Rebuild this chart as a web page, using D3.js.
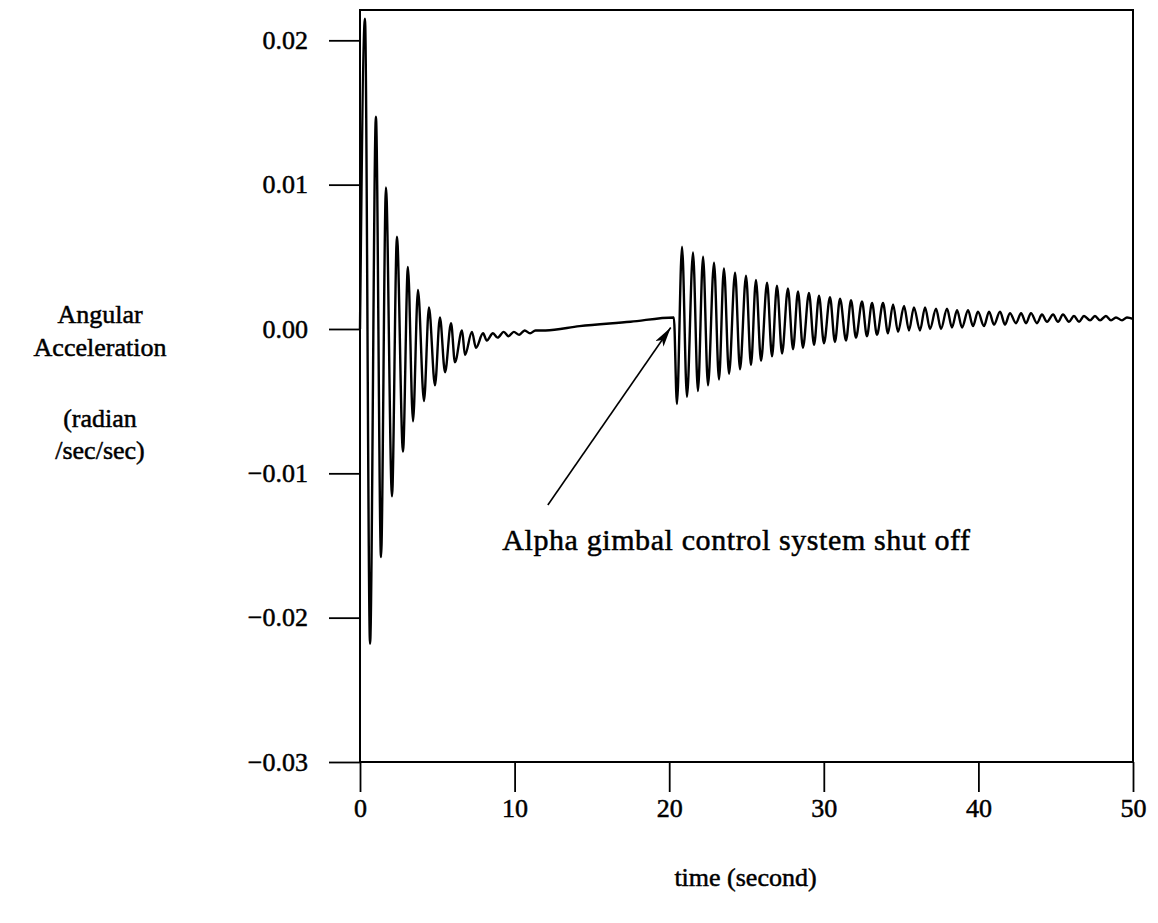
<!DOCTYPE html>
<html>
<head>
<meta charset="utf-8">
<script src="https://cdn.jsdelivr.net/npm/d3@7/dist/d3.min.js"></script>
<style>
  html, body { margin: 0; padding: 0; background: #fff; }
  svg { display: block; }
  text { font-family: "Liberation Serif", "Times New Roman", serif; fill: #000; stroke: #000; stroke-width: 0.5px; }
</style>
</head>
<body>
<svg id="chart" width="1158" height="923"></svg>
<script>
// Axis ticks
const xTicks = [0, 10, 20, 30, 40, 50];
const yTicks = [-0.03, -0.02, -0.01, 0.00, 0.01, 0.02];

// Response before shut-off: start point, peaks, troughs, slow drift
const startTime = [0];
const startValue = [0.0];

const peakTimes1 = [0.32, 1.03, 1.68, 2.39, 3.10, 3.75, 4.46, 5.17, 5.89, 6.60, 7.24, 7.96, 8.60, 9.30, 9.95, 10.65, 11.35];
const peakValues1 = [0.0215, 0.0147, 0.0098, 0.0064, 0.0043, 0.0027, 0.0015, 0.0008, 0.0004, -0.0001, -0.0002, -0.0003, -0.0003, -0.0002, -0.0002, -0.0001, -0.0001];

const troughTimes1 = [0.65, 1.36, 2.07, 2.78, 3.43, 4.14, 4.85, 5.50, 6.14, 6.79, 7.50, 8.20, 8.90, 9.60, 10.30, 11.00];
const troughValues1 = [-0.0218, -0.0158, -0.0116, -0.0085, -0.0064, -0.0050, -0.0039, -0.0030, -0.0023, -0.0018, -0.0013, -0.0008, -0.0006, -0.0005, -0.0004, -0.0003];

const driftTimes = [12.0, 14.2, 17.5, 20.3];
const driftValues = [-0.0001, 0.0002, 0.0005, 0.0008];

// Response after shut-off
const peakTimes2 = [20.83, 21.54, 22.19, 22.90, 23.54, 24.26, 24.97, 25.61, 26.33, 26.97, 27.68, 28.33, 29.04, 29.69, 30.40,
  31.05, 31.76, 32.47, 33.12, 33.83, 34.48, 35.19, 35.83, 36.55, 37.26, 37.97, 38.62, 39.33, 39.97, 40.69,
  41.40, 42.04, 42.76, 43.40, 44.11, 44.83, 45.47, 46.18, 46.83, 47.54, 48.25, 48.90, 49.61];
const peakValues2 = [0.0057, 0.0053, 0.0050, 0.0046, 0.0042, 0.0039, 0.0037, 0.0034, 0.0032, 0.0030, 0.0028, 0.0026, 0.0025, 0.0023, 0.0022,
  0.0021, 0.0020, 0.0019, 0.0018, 0.0018, 0.0017, 0.0016, 0.0015, 0.0015, 0.0014, 0.0014, 0.0013, 0.0013, 0.0012, 0.0012,
  0.0012, 0.0011, 0.0011, 0.0011, 0.0010, 0.0010, 0.0010, 0.0009, 0.0009, 0.0009, 0.0009, 0.0008, 0.0008];

const troughTimes2 = [20.50, 21.15, 21.86, 22.51, 23.22, 23.87, 24.58, 25.29, 25.94, 26.65, 27.30, 28.01, 28.65, 29.37, 30.01,
  30.72, 31.44, 32.08, 32.79, 33.44, 34.15, 34.80, 35.51, 36.22, 36.87, 37.58, 38.29, 38.94, 39.65, 40.36,
  41.01, 41.72, 42.43, 43.08, 43.79, 44.44, 45.15, 45.86, 46.51, 47.22, 47.87, 48.58, 49.29];
const troughValues2 = [-0.0052, -0.0047, -0.0043, -0.0039, -0.0035, -0.0031, -0.0028, -0.0025, -0.0022, -0.0019, -0.0017, -0.0014, -0.0013, -0.0011, -0.0010,
  -0.0009, -0.0008, -0.0006, -0.0005, -0.0004, -0.0003, -0.0002, -0.0001, -0.0001, 0.0000, 0.0000, 0.0001, 0.0001, 0.0002, 0.0002,
  0.0003, 0.0003, 0.0004, 0.0004, 0.0004, 0.0005, 0.0005, 0.0005, 0.0005, 0.0006, 0.0006, 0.0006, 0.0006];

const endTime = [50];
const endValue = [0.0007];

// Annotation anchor points (data units)
const noteText = "Alpha gimbal control system shut off";
const noteAt = { t: 9.2, v: -0.0153 };
const arrowFrom = { t: 12.15, v: -0.0122 };
const arrowTo = { t: 20.1, v: 0.0001 };

const xTitle = "time (second)";
const yTitleLines = ["Angular", "Acceleration", "(radian", "/sec/sec)"];

// ---- build series ----
function pairs(ts, vs) { return ts.map((t, i) => ({ t, v: vs[i] })); }
const series = [].concat(
  pairs(startTime, startValue),
  pairs(peakTimes1, peakValues1),
  pairs(troughTimes1, troughValues1),
  pairs(driftTimes, driftValues),
  pairs(peakTimes2, peakValues2),
  pairs(troughTimes2, troughValues2),
  pairs(endTime, endValue)
).sort((a, b) => a.t - b.t);

// ---- layout ----
const svg = d3.select("#chart");
const plotLeft = 360, plotRight = 1133, plotTop = 10, plotBottom = 762;

const x = d3.scaleLinear().domain([0, 50]).range([plotLeft, plotRight]);
const y = d3.scaleLinear().domain([-0.03, 0.0221]).range([plotBottom, plotTop]);

// frame
svg.append("rect")
  .attr("x", plotLeft).attr("y", plotTop)
  .attr("width", plotRight - plotLeft).attr("height", plotBottom - plotTop)
  .attr("fill", "none").attr("stroke", "#000").attr("stroke-width", 2);

// y axis
const yAxis = svg.append("g")
  .attr("transform", `translate(${plotLeft},0)`)
  .call(d3.axisLeft(y).tickValues(yTicks).tickSize(31).tickSizeOuter(0).tickPadding(21)
    .tickFormat(d3.format(".2f")));
yAxis.select(".domain").remove();
yAxis.selectAll(".tick line").attr("stroke", "#000").attr("stroke-width", 1.8);
yAxis.selectAll(".tick text")
  .style("font-family", "Liberation Serif, serif")
  .style("font-size", "26px")
  .attr("fill", "#000");

// x axis
const xAxis = svg.append("g")
  .attr("transform", `translate(0,${plotBottom})`)
  .call(d3.axisBottom(x).tickValues(xTicks).tickSize(30).tickSizeOuter(0).tickPadding(7)
    .tickFormat(d3.format("d")));
xAxis.select(".domain").remove();
xAxis.selectAll(".tick line").attr("stroke", "#000").attr("stroke-width", 1.8);
xAxis.selectAll(".tick text")
  .style("font-family", "Liberation Serif, serif")
  .style("font-size", "26px")
  .attr("fill", "#000");

// response curve
const line = d3.line()
  .x(d => x(d.t))
  .y(d => y(d.v))
  .curve(d3.curveMonotoneX);

svg.append("path")
  .datum(series)
  .attr("d", line)
  .attr("fill", "none")
  .attr("stroke", "#000")
  .attr("stroke-width", 2.4)
  .attr("stroke-linejoin", "round");

// annotation arrow
svg.append("defs").append("marker")
  .attr("id", "head")
  .attr("viewBox", "0 0 20 10")
  .attr("refX", 20).attr("refY", 5)
  .attr("markerWidth", 20).attr("markerHeight", 10)
  .attr("markerUnits", "userSpaceOnUse")
  .attr("orient", "auto")
  .append("path")
  .attr("d", "M0,0 L20,5 L0,10 L5,5 Z")
  .attr("fill", "#000");

svg.append("line")
  .attr("x1", x(arrowFrom.t)).attr("y1", y(arrowFrom.v))
  .attr("x2", x(arrowTo.t)).attr("y2", y(arrowTo.v))
  .attr("stroke", "#000").attr("stroke-width", 1.6)
  .attr("marker-end", "url(#head)");

svg.append("text")
  .attr("x", x(noteAt.t)).attr("y", y(noteAt.v))
  .style("font-size", "30px")
  .style("letter-spacing", "0.6px")
  .text(noteText);

// axis titles
svg.append("text")
  .attr("x", (plotLeft + plotRight) / 2 - 1).attr("y", 886)
  .attr("text-anchor", "middle")
  .style("font-size", "26px")
  .text(xTitle);

const yTitleY = [323, 356, 427, 459];
yTitleLines.forEach((s, i) => {
  svg.append("text")
    .attr("x", 100).attr("y", yTitleY[i])
    .attr("text-anchor", "middle")
    .style("font-size", "26px")
    .text(s);
});
</script>
</body>
</html>
